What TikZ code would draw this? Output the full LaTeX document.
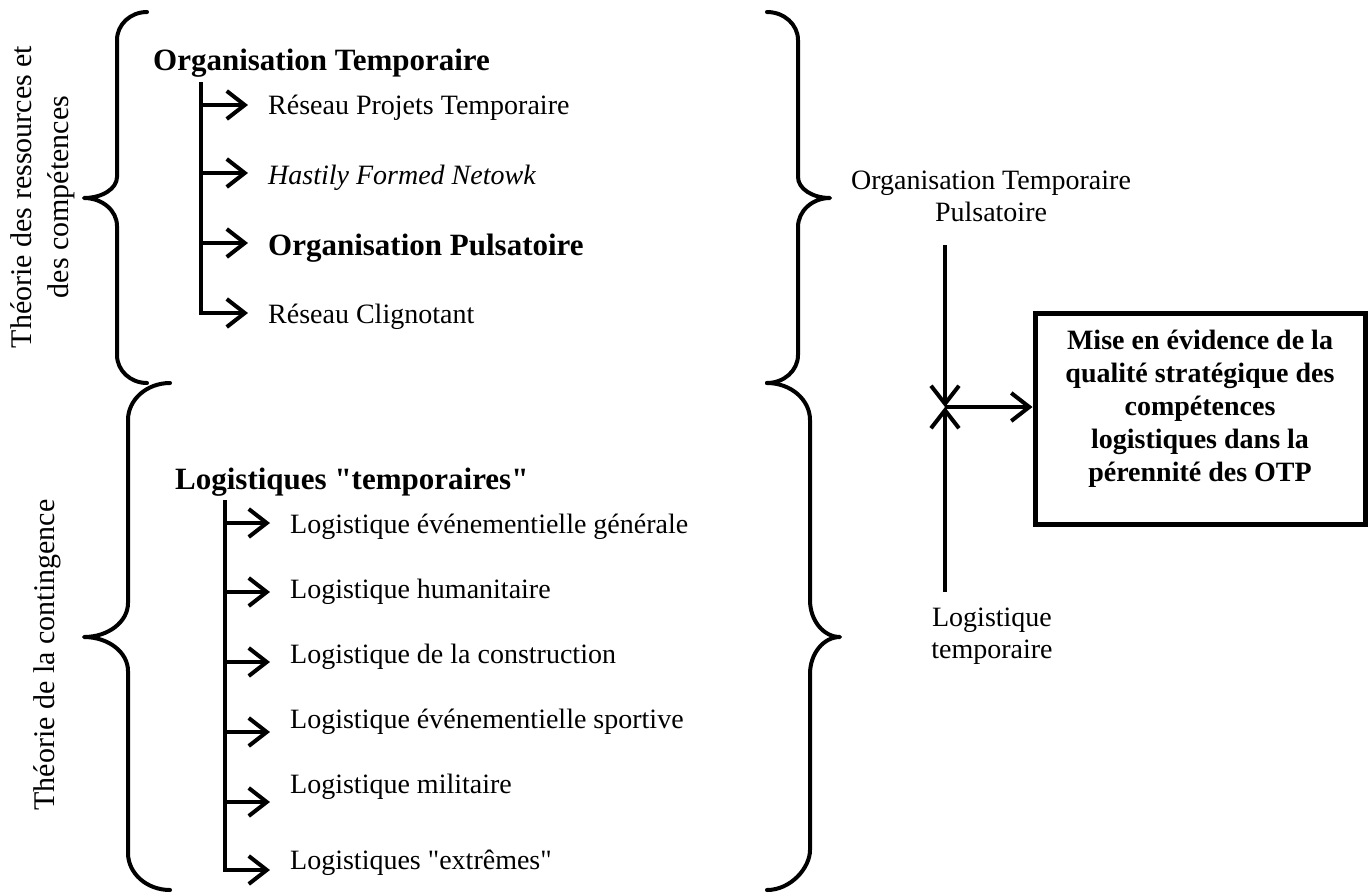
\documentclass[tikz,border=0pt]{standalone}
\usepackage{fontspec}
\setmainfont{Liberation Serif}[Ligatures=TeXOff]
\usetikzlibrary{arrows.meta}
\begin{document}
\begin{tikzpicture}[x=1pt,y=-1pt,
  brc/.style={line width=4pt, line cap=round, line join=round},
  trunk/.style={line width=4pt},
  arr/.style={line width=4pt, -{Straight Barb[length=18pt,width=28pt,line width=4pt]}, shorten >=20pt},
  arrj/.style={line width=4pt, -{Straight Barb[length=18pt,width=28pt,line width=4pt]}},
  itemtxt/.style={anchor=west, inner sep=0pt, font=\fontsize{28}{32}\selectfont, text height=19pt, text depth=6pt},
  headtxt/.style={anchor=west, inner sep=0pt, font=\fontsize{31}{36}\selectfont\bfseries, text height=21pt, text depth=7pt},
  sidetxt/.style={inner sep=0pt, align=center, font=\fontsize{28}{32}\selectfont},
  theory/.style={inner sep=0pt, align=center, rotate=90, font=\fontsize{30}{37}\selectfont},
  outbox/.style={draw, line width=5pt, minimum width=330pt, minimum height=211pt, inner sep=0pt},
  boxtxt/.style={inner sep=0pt, align=center, font=\fontsize{28}{33}\selectfont\bfseries}
]
\useasboundingbox (0,0) rectangle (1368,895);

% braces
\draw[brc] (147,12) .. controls (130.4,12) and (117,24.5) .. (117,40)
  -- (117,177) .. controls (117,188.6) and (102.2,198) .. (84,198)
  .. controls (102.2,198) and (117,210.5) .. (117,226)
  -- (117,355) .. controls (117,370.5) and (130.4,383) .. (147,383);
\draw[brc] (170,383) .. controls (146.8,383) and (128,399.6) .. (128,420)
  -- (128,603) .. controls (128,621.8) and (108.3,637) .. (84,637)
  .. controls (108.3,637) and (128,652.2) .. (128,671)
  -- (128,853) .. controls (128,873.4) and (146.8,890) .. (170,890);
\draw[brc] (767,12) .. controls (784.1,12) and (798,24.5) .. (798,40)
  -- (798,177) .. controls (798,188.6) and (812.3,198) .. (830,198)
  .. controls (812.3,198) and (798,211) .. (798,227)
  -- (798,355) .. controls (798,370.5) and (784.1,383) .. (767,383);
\draw[brc] (767,383) .. controls (790.7,383) and (810,399.6) .. (810,420)
  -- (810,600) .. controls (810,620.4) and (823.4,637) .. (840,637)
  .. controls (823.4,637) and (810,653.6) .. (810,674)
  -- (810,850) .. controls (810,867.9) and (790.7,890) .. (767,890);

% theory labels
\node[theory] (th1) at (42.5,197) {Théorie des ressources et\\des compétences};
\node[theory] (th2) at (47,655) {Théorie de la contingence};

% upper tree
\node[headtxt] (h1) at (153,63) {Organisation Temporaire};
\node[itemtxt] (a1) at (268,108) {Réseau Projets Temporaire};
\node[itemtxt] (a2) at (268,178) {\itshape Hastily Formed Netowk};
\node[headtxt] (a3) at (268,248) {Organisation Pulsatoire};
\node[itemtxt] (a4) at (268,317) {Réseau Clignotant};
\coordinate (ta0) at (201,82);
\coordinate (ta1) at (201,105);
\coordinate (ta2) at (201,173);
\coordinate (ta3) at (201,243);
\coordinate (ta4) at (201,313);
\draw[trunk] (ta0) -- ([yshift=-2pt]ta4);
\foreach \i in {1,...,4}{
  \draw[arr] (ta\i) -- (ta\i -| a\i.west);
}

% lower tree
\node[headtxt] (h2) at (175,482) {Logistiques "temporaires"};
\node[itemtxt] (b1) at (290,527) {Logistique événementielle générale};
\node[itemtxt] (b2) at (290,592) {Logistique humanitaire};
\node[itemtxt] (b3) at (290,657) {Logistique de la construction};
\node[itemtxt] (b4) at (290,722) {Logistique événementielle sportive};
\node[itemtxt] (b5) at (290,787) {Logistique militaire};
\node[itemtxt] (b6) at (290,863) {Logistiques "extrêmes"};
\coordinate (tb0) at (225,500);
\coordinate (tb1) at (225,523);
\coordinate (tb2) at (225,592);
\coordinate (tb3) at (225,662);
\coordinate (tb4) at (225,732);
\coordinate (tb5) at (225,802);
\coordinate (tb6) at (225,870);
\draw[trunk] (tb0) -- ([yshift=-2pt]tb6);
\foreach \i in {1,...,6}{
  \draw[arr] (tb\i) -- (tb\i -| b\i.west);
}

% right part
\node[sidetxt] (otp) at (991,196) {Organisation Temporaire\\Pulsatoire};
\node[sidetxt] (lt) at (992,636) {Logistique\\temporaire};
\node[outbox] (box) at (1200,418.5) {};
\node[boxtxt] (boxt) at (1200,409) {Mise en évidence de la\\qualité stratégique des\\compétences\\logistiques dans la\\pérennité des OTP};
\coordinate (j) at (945,407);
\coordinate (vtop) at (945,245);
\coordinate (vbot) at (945,592);
\draw[arrj] (vtop) -- (j);
\draw[arrj] (vbot) -- (j);
\draw[arrj] (j) -- (j -| box.west);
\end{tikzpicture}
\end{document}
